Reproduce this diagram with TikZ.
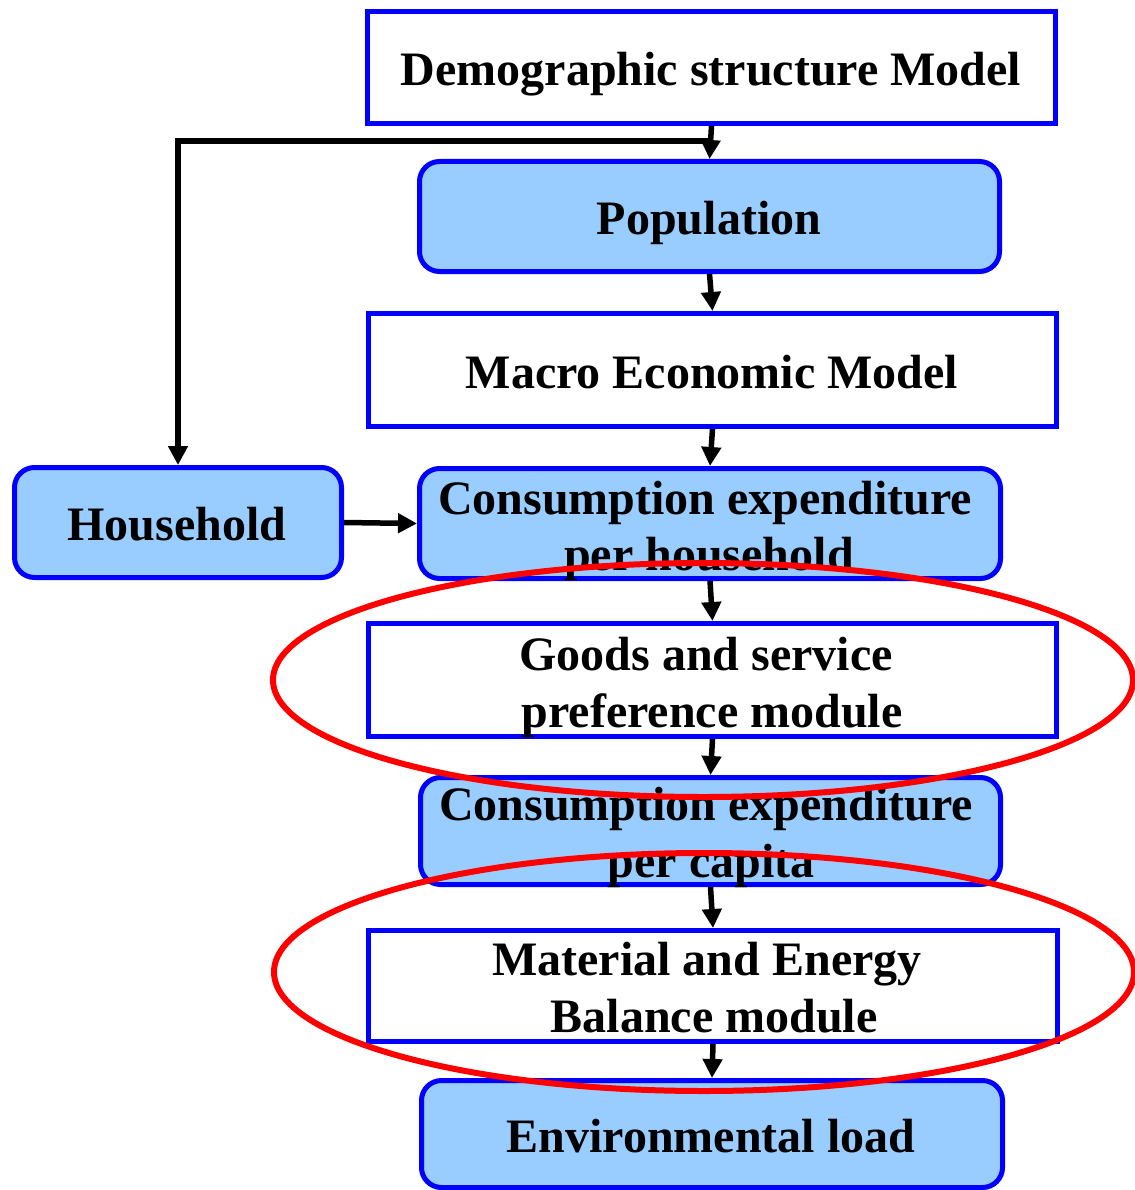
\documentclass[tikz,border=0pt]{standalone}
\usepackage{fontspec}
\setmainfont{Liberation Serif}
\usetikzlibrary{arrows.meta}
\definecolor{paleblue}{HTML}{99CCFF}
\begin{document}
\begin{tikzpicture}[x=1pt,y=-1pt,
  box/.style={draw=blue, line width=5pt, fill=white, inner sep=0pt},
  rbox/.style={box, fill=paleblue, rounded corners=20pt},
  lbl/.style={anchor=base, inner sep=0pt, font=\fontsize{48}{56}\selectfont\bfseries},
  arr/.style={line width=5.5pt, -{Triangle[length=19pt,width=19pt]}},
  ring/.style={draw=red, line width=6pt}]
\useasboundingbox (0,0) rectangle (1134,1190);

% boxes
\node[box,  minimum width=688, minimum height=112] (demo)  at (711.5,67.5) {};
\node[rbox, minimum width=580, minimum height=110] (pop)   at (709.5,216.5) {};
\node[box,  minimum width=688, minimum height=113] (macro) at (712.5,370) {};
\node[rbox, minimum width=327, minimum height=110] (hh)    at (178,522.5) {};
\node[rbox, minimum width=581, minimum height=110] (cph)   at (710,523.5) {};
\node[box,  minimum width=688, minimum height=113] (goods) at (712.5,680) {};
\node[rbox, minimum width=580, minimum height=107] (cpc)   at (710.5,831) {};
\node[box,  minimum width=689, minimum height=111] (mat)   at (713,986) {};
\node[rbox, minimum width=581, minimum height=107] (env)   at (712,1134) {};

% connectors
\coordinate (split) at (711.5,141);
\draw[arr] (demo.south) -- (pop.north);
\draw[arr] (split) -| (hh.north);
\draw[arr] (pop.south) -- (macro.north);
\draw[arr] (macro.south) -- (cph.north);
\draw[arr] (hh.east) -- (cph.west);
\draw[arr] (cph.south) -- (goods.north);
\draw[arr] (goods.south) -- (cpc.north);
\draw[arr] (cpc.south) -- (mat.north);
\draw[arr] (mat.south) -- (env.north);

% labels
\node[lbl] (demoT)  at (711,86)   {Demographic structure Model};
\node[lbl] (popT)   at (709,235)  {Population};
\node[lbl] (macroT) at (712,388)  {Macro Economic Model};
\node[lbl] (hhT)    at (177,540)  {Household};
\node[lbl] (cphT1)  at (705,514)  {Consumption expenditure};
\node[lbl] (cphT2)  at (709,570)  {per household};
\node[lbl] (goodsT1) at (706,670) {Goods and service};
\node[lbl] (goodsT2) at (712,727) {preference module};
\node[lbl] (cpcT1)  at (706,820)  {Consumption expenditure};
\node[lbl] (cpcT2)  at (711,877)  {per capita};
\node[lbl] (matT1)  at (707,975)  {Material and Energy};
\node[lbl] (matT2)  at (714,1032) {Balance module};
\node[lbl] (envT)   at (711,1152) {Environmental load};

% highlight rings
\draw[ring] (703,680) ellipse [x radius=430, y radius=117];
\draw[ring] (704,972) ellipse [x radius=430, y radius=119];
\end{tikzpicture}
\end{document}
